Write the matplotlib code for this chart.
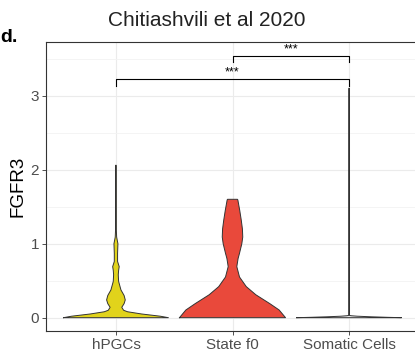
import matplotlib
matplotlib.use("Agg")
import matplotlib.pyplot as plt
import numpy as np

plt.rcParams['font.family'] = ['Liberation Sans', 'DejaVu Sans']

categories = ["hPGCs", "State f0", "Somatic Cells"]
colors = ["#E1D31B", "#E9493B", "#E9E9E9"]

# violin profiles: expression level and half-width (category units)
hpgc_y = [0.0, 0.02, 0.05, 0.08, 0.10, 0.14, 0.19, 0.24, 0.30, 0.375, 0.49, 0.58, 0.64, 0.69, 0.76, 0.87, 1.0, 1.09, 1.2, 2.06]
hpgc_w = [0.45, 0.38, 0.22, 0.10, 0.066, 0.05, 0.07, 0.08, 0.07, 0.043, 0.023, 0.02, 0.023, 0.028, 0.014, 0.014, 0.017, 0.006, 0.003, 0.002]

f0_y = [0.0, 0.104, 0.19, 0.31, 0.42, 0.55, 0.69, 0.80, 0.87, 1.0, 1.09, 1.2, 1.32, 1.45, 1.59, 1.60]
f0_w = [0.455, 0.40, 0.32, 0.20, 0.118, 0.06, 0.037, 0.048, 0.06, 0.08, 0.088, 0.085, 0.075, 0.062, 0.046, 0.043]

som_y = [0.0, 0.005, 0.012, 0.02, 0.026, 0.03, 0.1, 3.10]
som_w = [0.45, 0.33, 0.19, 0.07, 0.02, 0.004, 0.002, 0.002]

profiles = [(hpgc_y, hpgc_w), (f0_y, f0_w), (som_y, som_w)]

# significance brackets: (group a, group b, bar level, tick bottom, label)
brackets = [(1, 3, 3.23, 3.13, "***"), (2, 3, 3.54, 3.45, "***")]

yticks = [0, 1, 2, 3]

fig = plt.figure(figsize=(4.15, 3.52), dpi=100)
ax = fig.add_axes([46/415, 21/352, 373/415, 289/352])

for i, ((ys, ws), c) in enumerate(zip(profiles, colors), start=1):
    ys = np.array(ys); ws = np.array(ws)
    ax.fill_betweenx(ys, i - ws, i + ws, facecolor=c, edgecolor='none', zorder=3)
    xs = np.concatenate([i - ws, (i + ws)[::-1], [i - ws[0]]])
    yy = np.concatenate([ys, ys[::-1], [ys[0]]])
    ax.plot(xs, yy, color='#333333', lw=0.7, zorder=4, solid_joinstyle='round')

for a, b, lvl, low, lab in brackets:
    ax.plot([a, a, b, b], [low, lvl, lvl, low], color='black', lw=0.8, zorder=5)
    ax.text((a + b) / 2, lvl + 0.01, lab, ha='center', va='bottom', fontsize=9, color='black')

ax.set_xlim(0.4, 3.6)
ax.set_ylim(-0.18, 3.726)
ax.set_xticks([1, 2, 3])
ax.set_xticklabels(categories)
ax.set_yticks(yticks)
ax.set_yticks([0.5, 1.5, 2.5, 3.5], minor=True)
ax.grid(True, which='major', color='#EBEBEB', lw=0.8, zorder=0)
ax.grid(True, which='minor', axis='y', color='#F3F3F3', lw=0.6, zorder=0)
ax.set_axisbelow(True)
ax.tick_params(axis='both', which='major', labelsize=11, labelcolor='#4D4D4D',
               color='#333333', length=3, width=0.6, pad=2)
ax.tick_params(axis='both', which='minor', length=0)
for s in ax.spines.values():
    s.set_color('#333333'); s.set_linewidth(0.8)

ax.set_ylabel("FGFR3", fontsize=13.5, labelpad=3)
fig.text(207/415, 1 - 20/352, "Chitiashvili et al 2020", ha='center', va='center', fontsize=15, color='#222222')
fig.text(0.0, 1 - 37/352, "d.", ha='left', va='center', fontsize=14, fontweight='bold')

fig.savefig("out.png", dpi=100)
